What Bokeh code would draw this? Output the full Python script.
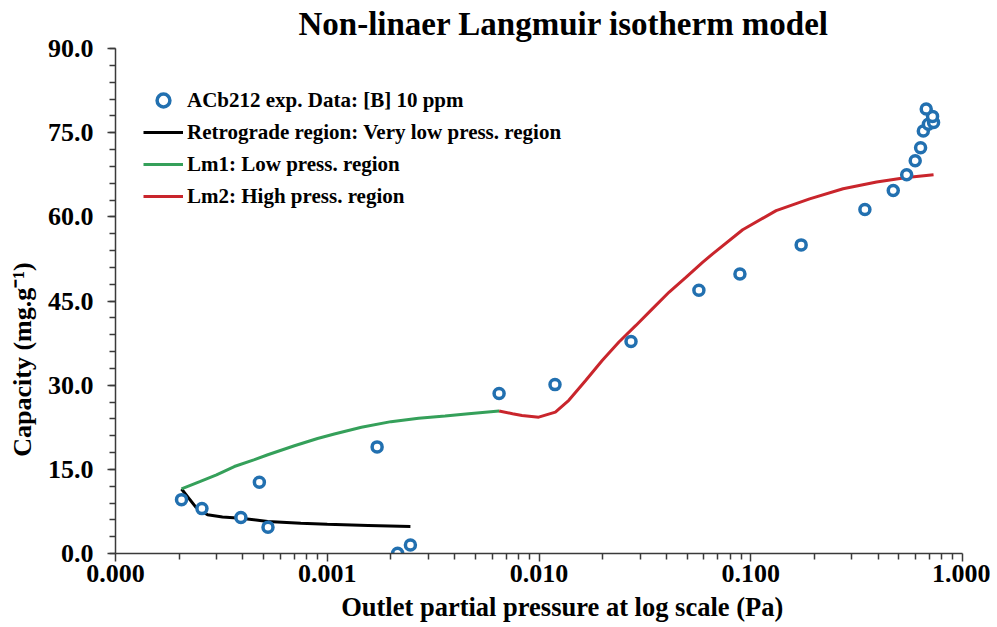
from bokeh.plotting import figure
from bokeh.models import FixedTicker, Legend, LegendItem, Range1d
from bokeh.embed import file_html
from bokeh.resources import INLINE

# ---- data ----
exp_x = [2.05e-4, 2.56e-4, 3.91e-4, 4.78e-4, 5.25e-4, 1.72e-3, 2.15e-3, 2.47e-3,
         6.48e-3, 0.0119, 0.0272, 0.0569, 0.0889, 0.173, 0.346, 0.471, 0.545,
         0.598, 0.634, 0.653, 0.690, 0.730, 0.722, 0.674]
exp_y = [9.6, 8.0, 6.4, 12.7, 4.7, 19.0, 0.05, 1.5,
         28.5, 30.1, 37.8, 46.9, 49.8, 55.0, 61.3, 64.7, 67.5,
         70.0, 72.3, 75.3, 76.5, 76.8, 77.9, 79.2]

retro_x = [2.05e-4, 2.39e-4, 2.72e-4, 3.2e-4, 3.91e-4, 5.24e-4, 7.5e-4, 1.0e-3, 1.56e-3, 2.47e-3]
retro_y = [11.5, 8.3, 6.9, 6.5, 6.3, 5.7, 5.4, 5.2, 5.0, 4.8]

lm1_x = [2.05e-4, 2.5e-4, 3.0e-4, 3.64e-4, 4.5e-4, 5.24e-4, 7.0e-4, 9.0e-4, 1.08e-3,
         1.45e-3, 2.0e-3, 2.7e-3, 3.6e-3, 4.65e-3, 6.48e-3]
lm1_y = [11.5, 12.8, 14.0, 15.5, 16.7, 17.6, 19.2, 20.5, 21.3,
         22.5, 23.5, 24.1, 24.5, 24.9, 25.4]

lm2_x = [0.00648, 0.0075, 0.00831, 0.00997, 0.01195, 0.01383, 0.01657, 0.01988,
         0.02385, 0.0286, 0.0343, 0.0412, 0.0494, 0.0592, 0.0661, 0.0916, 0.1318,
         0.1897, 0.273, 0.393, 0.545, 0.730]
lm2_y = [25.4, 24.9, 24.6, 24.3, 25.2, 27.3, 30.8, 34.4,
         37.7, 40.6, 43.6, 46.6, 49.2, 51.9, 53.4, 57.7, 61.1,
         63.2, 65.0, 66.2, 67.0, 67.5]

x_ticks = [1e-4, 1e-3, 1e-2, 1e-1, 1.0]
x_tick_labels = ["0.000", "0.001", "0.010", "0.100", "1.000"]
y_ticks = [0, 15, 30, 45, 60, 75, 90]
y_tick_labels = ["0.0", "15.0", "30.0", "45.0", "60.0", "75.0", "90.0"]

legend_labels = ["ACb212 exp. Data: [B] 10 ppm",
                 "Retrograde region: Very low press. region",
                 "Lm1: Low press. region",
                 "Lm2: High press. region"]
title_text = "Non-linaer Langmuir isotherm model"

FONT = "Liberation Serif"
AX = "#3a3a3a"

p = figure(width=990, height=626, output_backend="svg", toolbar_location=None,
           x_axis_type="log", x_range=Range1d(1e-4, 1.0), y_range=Range1d(0, 90),
           min_border_left=115, min_border_right=28, min_border_top=48, min_border_bottom=73)
p.outline_line_color = None
p.grid.visible = False
p.background_fill_color = "white"
p.border_fill_color = "white"

p.title.text = title_text
p.title.text_font = FONT
p.title.text_font_size = "33px"
p.title.text_font_style = "bold"
p.title.text_color = "black"
p.title.align = "left"
p.title.offset = 183
p.title.standoff = 0
try:
    p.title.padding = {"bottom": 7}
except Exception:
    pass

minor_x = []
for d in x_ticks[:-1]:
    for m in range(2, 10):
        minor_x.append(d * m)
p.xaxis.ticker = FixedTicker(ticks=x_ticks, minor_ticks=minor_x)
p.xaxis.major_label_overrides = {t: l for t, l in zip(x_ticks, x_tick_labels)}
p.yaxis.ticker = FixedTicker(ticks=y_ticks, minor_ticks=list(range(0, 91, 3)))
p.yaxis.major_label_overrides = {t: l for t, l in zip(y_ticks, y_tick_labels)}

p.xaxis.axis_label = "\u00a0" * 7 + "Outlet partial pressure at log scale (Pa)"
p.yaxis.axis_label = "Capacity (mg.g\u207b\u00b9)" + "\u00a0" * 18

for ax in (p.xaxis, p.yaxis):
    ax.axis_line_color = AX
    ax.axis_line_width = 1.5
    ax.major_tick_line_color = AX
    ax.minor_tick_line_color = AX
    ax.major_tick_line_width = 1.5
    ax.minor_tick_line_width = 1.5
    ax.major_tick_in = 0
    ax.major_tick_out = 8
    ax.minor_tick_in = 0
    ax.minor_tick_out = 6
    ax.major_label_text_font = FONT
    ax.major_label_text_font_size = "26px"
    ax.major_label_text_font_style = "bold"
    ax.major_label_text_color = "black"
    ax.axis_label_text_font = FONT
    ax.axis_label_text_font_size = "26px"
    ax.axis_label_text_font_style = "bold"
    ax.axis_label_text_color = "black"

p.xaxis.axis_label_text_font_size = "26.5px"
p.xaxis.major_label_standoff = 3
p.xaxis.axis_label_standoff = 7
p.yaxis.major_label_standoff = 14
p.yaxis.axis_label_standoff = 8

BLUE = "#2270b0"
GREEN = "#35a05a"
RED = "#c9252c"

r_black = p.line(retro_x, retro_y, line_color="black", line_width=3)
r_green = p.line(lm1_x, lm1_y, line_color=GREEN, line_width=3)
r_red = p.line(lm2_x, lm2_y, line_color=RED, line_width=3)
r_pts = p.scatter(exp_x, exp_y, marker="circle", size=10, line_color=BLUE,
                  line_width=3.5, fill_color="white")

legend = Legend(items=[LegendItem(label=legend_labels[0], renderers=[r_pts]),
                       LegendItem(label=legend_labels[1], renderers=[r_black]),
                       LegendItem(label=legend_labels[2], renderers=[r_green]),
                       LegendItem(label=legend_labels[3], renderers=[r_red])],
                location=(28, 341))
legend.border_line_color = None
legend.background_fill_alpha = 0
legend.margin = 0
legend.padding = 0
legend.spacing = 0
legend.glyph_width = 40
legend.glyph_height = 32
legend.label_height = 32
legend.label_standoff = 4
legend.label_text_font = FONT
legend.label_text_font_size = "21px"
legend.label_text_font_style = "bold"
legend.label_text_color = "black"
p.add_layout(legend, "center")

open("out.html", "w").write(file_html(p, INLINE))
